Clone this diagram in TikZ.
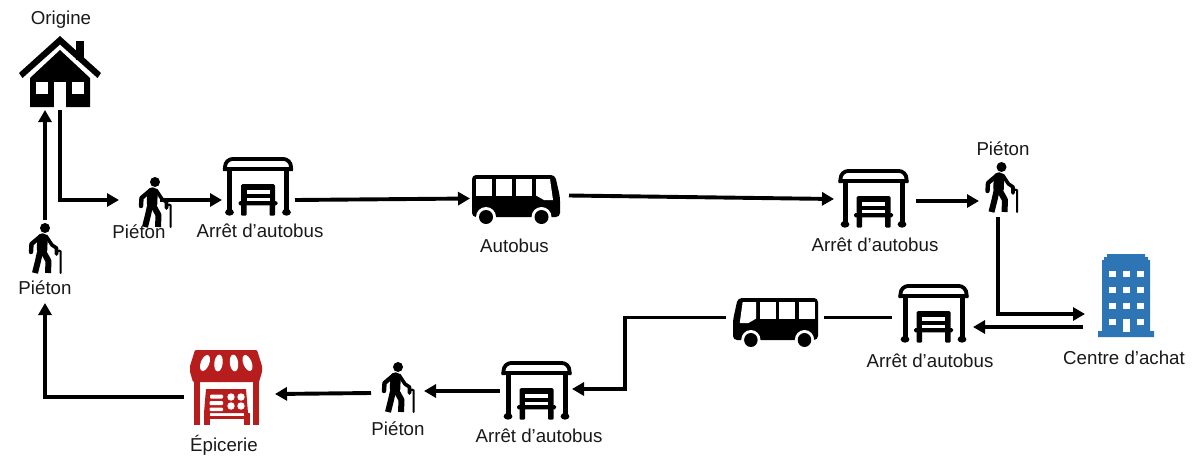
\documentclass[tikz,border=0pt]{standalone}
\usepackage{fontspec}
\setmainfont{Liberation Sans}
\usetikzlibrary{arrows.meta}
\definecolor{storered}{HTML}{B81D1D}
\definecolor{towerblue}{HTML}{2E75B6}
\newcommand{\coachshape}{%
    \fill[rounded corners=4pt] (0,0) -- (83,0) -- (88,22) -- (88,42) -- (0,42) -- cycle;
    \fill[white] (3.5,4) rectangle (20,20.5);
    \fill[white] (24,4) rectangle (40,20.5);
    \fill[white] (44,4) rectangle (60,20.5);
    \fill[white] (64,4) -- (78,4) -- (81,25) -- (72,25) -- (64,20.5) -- cycle;
    \fill[white] (14,42) circle (10) (69.5,42) circle (10);
    \fill (14,42) circle (7) (69.5,42) circle (7);
}
\tikzset{
  lbl/.style={font=\fontsize{18.7}{22}\selectfont, inner sep=0pt, text=black!90},
  conn/.style={line width=3.9pt, black, line join=miter},
  arr/.style={conn, -{Triangle[length=12pt,width=13pt]}},
  shelter/.pic={
    \draw[line width=3.8pt, rounded corners=8pt, line join=round] (-33,14) -- (-33,1.9) -- (33,1.9) -- (33,14);
    \draw[line width=4.6pt, line cap=round] (-33,12) -- (33,12);
    \draw[line width=5pt] (-28.5,12) -- (-28.5,55);
    \draw[line width=5pt] (28.5,12) -- (28.5,55);
    \fill (-28.5,55.3) ellipse (4.4 and 3.4);
    \fill (28.5,55.3) ellipse (4.4 and 3.4);
    \fill[rounded corners=1.5pt] (-17,27) rectangle (17,45);
    \fill[white] (-11.5,32.5) rectangle (11.5,37);
    \fill[white] (-11.5,40.5) rectangle (11.5,44.1);
    \fill[rounded corners=1.5pt] (-19.5,44) rectangle (19.5,48.3);
    \fill[rounded corners=1pt] (-17,47) rectangle (-11.5,58.5);
    \fill[rounded corners=1pt] (11.5,47) rectangle (17,58.5);
  },
  walker/.pic={
    \fill (0,0) circle (5);
    \draw[line width=10.5pt, line cap=round] (-2.5,10.5) -- (-3,22);
    \draw[line width=4.4pt, line cap=round, line join=round] (-4,8) -- (-13.5,16) -- (-14,24);
    \draw[line width=3.6pt, line cap=round, line join=round] (1,8) -- (7,17) -- (11.5,20) -- (11.5,26);
    \draw[line width=2pt, line cap=round, rounded corners=1.5pt] (11.5,24) -- (15.7,22) -- (15.7,45);
    \draw[line width=6pt, line join=round] (-5,24) -- (-7,33) -- (-10,45);
    \draw[line width=6pt, line join=round] (-1.5,24) -- (3.5,33) -- (3,45);
  }
}
\begin{document}
\begin{tikzpicture}[x=1pt,y=-1pt]
\useasboundingbox (0,0) rectangle (1193,461);
\fill[white] (0,0) rectangle (1193,461);

% house
\fill (76,41) rectangle (84,60);
\fill (60,36) -- (101,73) -- (97.5,78) -- (60,44.5) -- (22.5,78) -- (19,73) -- cycle;
\fill (60,50) -- (90,78) -- (90,107) -- (30,107) -- (30,78) -- cycle;
\fill[white] (54,82) rectangle (66,107.5);
\fill[white] (36,82) rectangle (48,94);
\fill[white] (72,82) rectangle (84,94);

% connector end points
\coordinate (homeout) at (60,110);
\coordinate (bendA) at (60,200);
\coordinate (walkAin) at (119,200);
\coordinate (walkAout) at (160,200);
\coordinate (stopAin) at (222,200);
\coordinate (stopAout) at (295,200);
\coordinate (busAin) at (470,198.5);
\coordinate (busAout) at (569,195.5);
\coordinate (stopBin) at (834,199);
\coordinate (stopBout) at (916,201);
\coordinate (walkBin) at (979,201);
\coordinate (walkBout) at (998,217);
\coordinate (bendB) at (998,314);
\coordinate (mallin) at (1085,314);
\coordinate (mallout) at (1083,327);
\coordinate (stopCin) at (973,327);
\coordinate (stopCout) at (892,317.5);
\coordinate (busBin) at (824,317.5);
\coordinate (busBout) at (726,317.5);
\coordinate (bendC) at (625,317.5);
\coordinate (bendD) at (625,389);
\coordinate (stopDin) at (572,389);
\coordinate (stopDout) at (500,391);
\coordinate (walkCin) at (424,391);
\coordinate (walkCout) at (371,393);
\coordinate (storein) at (275,394);
\coordinate (storeout) at (184,397);
\coordinate (bendE) at (45,397);
\coordinate (walkDin) at (45,303);
\coordinate (walkDout) at (45,220);
\coordinate (homein) at (45,110);

% store
\begin{scope}[storered]
\fill[rounded corners=1pt] (195,350) -- (257,350) -- (262,366) -- (262,372) -- (259,382) -- (193,382) -- (190,372) -- (190,366) -- cycle;
\fill (194,372) rectangle (199.5,425);
\fill (253,372) rectangle (259,425);
\fill[white,shift={(205,363)},rotate=-22] (0,0) ellipse (4.2 and 8.4);
\fill[white,shift={(218.5,363)},rotate=-7] (0,0) ellipse (4.2 and 8.4);
\fill[white,shift={(234,363)},rotate=7] (0,0) ellipse (4.2 and 8.4);
\fill[white,shift={(247.5,363)},rotate=22] (0,0) ellipse (4.2 and 8.4);
\fill (206,389) -- (246,389) -- (248,413) -- (204,413) -- cycle;
\fill (204,416) rectangle (249,419);
\fill (204,413) rectangle (209.5,425);
\fill (244,413) rectangle (250,425);
\fill[white,rounded corners=1pt] (210,394.5) rectangle (223,398.5);
\fill[white,rounded corners=1pt] (209.5,401) rectangle (223,405);
\fill[white,rounded corners=1pt] (209.5,407.5) rectangle (223,411);
\fill[white] (231,397) circle (3.7) (241,397) circle (3.7) (231,406) circle (3.7) (241,406) circle (3.7);
\end{scope}

% tower
\begin{scope}[towerblue]
\fill (1107,254) -- (1145,254) -- (1145,257) -- (1148,257) -- (1148,260) -- (1150,260) -- (1150,331) -- (1154,331) -- (1154,337) -- (1098,337) -- (1098,331) -- (1102,331) -- (1102,260) -- (1104,260) -- (1104,257) -- (1107,257) -- cycle;
\foreach \yy in {271,287,303,319} {
  \fill[white] (1109,\yy) rectangle +(6.5,6);
  \fill[white] (1123,\yy) rectangle +(6.5,6);
  \fill[white] (1137,\yy) rectangle +(6.5,6);
}
\fill[white] (1123,319) rectangle (1129.5,332);
\end{scope}

% walkers, stops, coaches
\pic at (45,228) {walker};
\pic at (155,182) {walker};
\pic at (1001.5,167) {walker};
\pic at (398,367) {walker};
\pic at (258,157) {shelter};
\pic at (873.5,169) {shelter};
\pic at (933.5,284) {shelter};
\pic at (536.5,361) {shelter};
\begin{scope}[shift={(472,175)}]
\coachshape
\end{scope}
\begin{scope}[shift={(818,298)},xscale=-0.966]
\coachshape
\end{scope}

% connectors
\draw[arr] (homeout) -- (bendA) -- (walkAin);
\draw[arr] (walkAout) -- (stopAin);
\draw[arr] (stopAout) -- (busAin);
\draw[arr] (busAout) -- (stopBin);
\draw[arr] (stopBout) -- (walkBin);
\draw[arr] (walkBout) -- (bendB) -- (mallin);
\draw[arr] (mallout) -- (stopCin);
\draw[conn] (stopCout) -- (busBin);
\draw[arr] (busBout) -- (bendC) -- (bendD) -- (stopDin);
\draw[arr] (stopDout) -- (walkCin);
\draw[arr] (walkCout) -- (storein);
\draw[arr] (storeout) -- (bendE) -- (walkDin);
\draw[arr] (walkDout) -- (homein);

% labels
\node[lbl] (lorigin) at (61,19.5) {Origine};
\node[lbl] (lwalkA) at (139,232) {Piéton};
\node[lbl] (lstopA) at (260,231) {Arrêt d’autobus};
\node[lbl] (lbusA) at (514.5,245.5) {Autobus};
\node[lbl] (lstopB) at (875,244.5) {Arrêt d’autobus};
\node[lbl] (lwalkB) at (1003,148.5) {Piéton};
\node[lbl] (lwalkD) at (45,288) {Piéton};
\node[lbl] (lmall) at (1124,358) {Centre d’achat};
\node[lbl] (lstopC) at (930,361) {Arrêt d’autobus};
\node[lbl] (lstopD) at (539,435.5) {Arrêt d’autobus};
\node[lbl] (lwalkC) at (398,428.5) {Piéton};
\node[lbl] (lstore) at (224,445) {Épicerie};
\end{tikzpicture}
\end{document}
